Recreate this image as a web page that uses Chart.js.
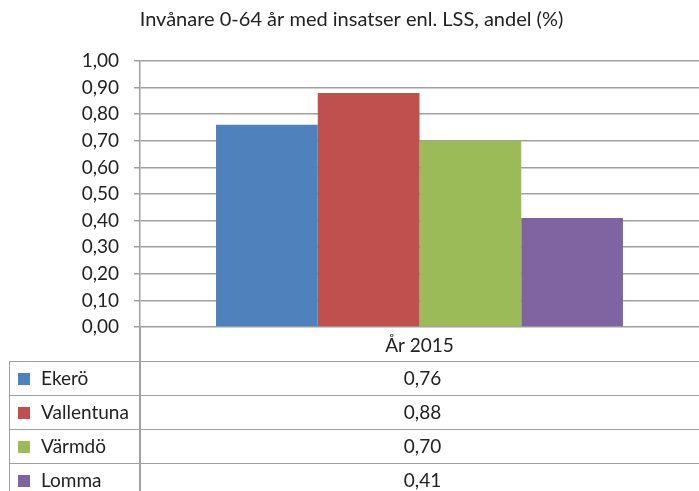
<!DOCTYPE html>
<html>
<head>
<meta charset="utf-8">
<script src="https://cdn.jsdelivr.net/npm/chart.js@4/dist/chart.umd.min.js"></script>
<style>
  body { margin: 0; background: #fff; }
  #wrap { position: relative; width: 699px; height: 491px; overflow: hidden; font-family: Lato, 'Open Sans', sans-serif; color: #222; }
  #chart { position: absolute; left: 0; top: 0; }
  #axisExt { position: absolute; left: 139px; top: 327px; width: 1.5px; height: 170px; background: #a0a0a0; }
  #table { position: absolute; left: 9px; top: 361px; width: 690px; border-left: 1.5px solid #a0a0a0; }
  .row { position: relative; height: 34px; border-top: 1.5px solid #a0a0a0; box-sizing: border-box; font-size: 19px; }
  .row .name { position: absolute; left: 31px; top: 4px; }
  .row .sw { position: absolute; left: 8px; top: 11px; width: 12px; height: 12px; }
  .row .val { position: absolute; left: 131px; width: 563px; top: 4px; text-align: center; }
</style>
</head>
<body>
<div id="wrap">
  <canvas id="chart" width="699" height="491"></canvas>
  <div id="axisExt"></div>
  <div id="table"></div>
</div>
<script>
  // Chart data
  const title = 'Invånare 0-64 år med insatser enl. LSS, andel (%)';
  const categories = ['År 2015'];
  const seriesNames = ['Ekerö', 'Vallentuna', 'Värmdö', 'Lomma'];
  const seriesValues = [[0.76], [0.88], [0.70], [0.41]];
  const seriesColors = ['#4F81BD', '#C0504D', '#9BBB59', '#8064A2'];

  const fmt = (v) => Number(v).toFixed(2).replace('.', ',');
  const fontFamily = "Lato, 'Open Sans', sans-serif";

  const datasets = seriesNames.map((name, i) => ({
    label: name,
    data: seriesValues[i],
    backgroundColor: seriesColors[i],
    borderWidth: 0,
    barPercentage: 1,
    categoryPercentage: 0.728,
  }));

  new Chart(document.getElementById('chart'), {
    type: 'bar',
    data: { labels: categories, datasets: datasets },
    options: {
      responsive: false,
      animation: false,
      layout: { padding: { left: 0, top: 0, bottom: 0, right: -4 } },
      plugins: {
        legend: { display: false },
        tooltip: { enabled: false },
        title: {
          display: true,
          text: title,
          color: '#222',
          font: { family: fontFamily, size: 20, weight: 'normal' },
          padding: { top: 8, bottom: 29 },
        },
      },
      scales: {
        x: {
          grid: { display: false, drawTicks: false },
          border: { display: false },
          ticks: { color: '#222', padding: 7, font: { family: fontFamily, size: 19 } },
          afterFit: (scale) => { scale.height = 164; },
        },
        y: {
          min: 0,
          max: 1,
          ticks: {
            stepSize: 0.1,
            color: '#222',
            padding: 15,
            font: { family: fontFamily, size: 19 },
            callback: (v) => fmt(v),
          },
          grid: { color: '#a0a0a0', lineWidth: 1.5, tickLength: 6 },
          border: { color: '#a0a0a0', width: 1.5 },
          afterFit: (scale) => { scale.width = 140; },
        },
      },
    },
  });

  // Data table below the chart
  const table = document.getElementById('table');
  seriesNames.forEach((name, i) => {
    const row = document.createElement('div');
    row.className = 'row';
    row.innerHTML =
      '<span class="sw" style="background:' + seriesColors[i] + '"></span>' +
      '<span class="name">' + name + '</span>' +
      '<span class="val">' + fmt(seriesValues[i][0]) + '</span>';
    table.appendChild(row);
  });
</script>
</body>
</html>
